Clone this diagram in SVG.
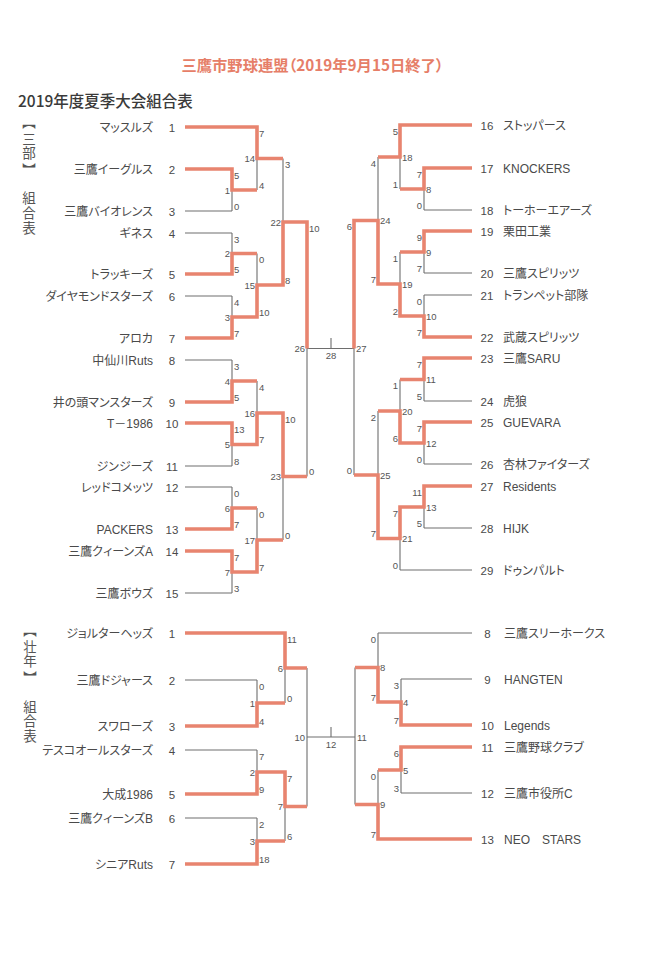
<svg xmlns="http://www.w3.org/2000/svg" width="647" height="955" viewBox="0 0 647 955">
<style>
.bg{fill:#ffffff}
.ln{fill:none;stroke:#6e6e6e;stroke-width:1.1}
.w{fill:none;stroke:#e8846f;stroke-width:3.6;stroke-linejoin:miter;stroke-linecap:butt}
text{font-family:"Liberation Sans","Noto Sans CJK JP",sans-serif;fill:#4a4a4a}
.nm{font-size:12px;font-feature-settings:"palt"}
.no{font-size:11.5px}
.l .nm{text-anchor:end}
.l .no{text-anchor:middle}
.r .no{text-anchor:middle}
.sc{font-size:9.5px;fill:#555555}
.le .sc.n{text-anchor:end}
.ri .sc.s{text-anchor:end}
.ttl{font-family:"Noto Sans CJK JP",sans-serif;font-size:15.3px;font-weight:bold;fill:#e67e68;text-anchor:middle;font-feature-settings:"palt"}
.sub{font-family:"Noto Sans CJK JP",sans-serif;font-size:15.5px;font-weight:500;fill:#3a3a3a}
.vt{font-family:"Noto Sans CJK JP",sans-serif;font-size:13.5px;fill:#555555;writing-mode:vertical-rl;text-orientation:upright}
.mid{text-anchor:middle}
</style>
<rect class="bg" x="0" y="0" width="647" height="955"/>

<g id="titles">
<text class="ttl" x="312.5" y="71">三鷹市野球連盟（2019年9月15日終了）</text>
<text class="sub" x="18" y="107">2019年度夏季大会組合表</text>
<text class="vt" x="29" y="115">【<tspan dy="3.5">三部</tspan><tspan dy="4">】</tspan></text>
<text class="vt" x="29" y="191" letter-spacing="1.5">組合表</text>
<text class="vt" x="30" y="623">【<tspan dy="3.5">壮年</tspan><tspan dy="4">】</tspan></text>
<text class="vt" x="30" y="700" letter-spacing="1">組合表</text>
</g>

<g id="connectors">
<path class="ln" d="M185,127H257 M185,169H232 M185,211H232 M185,233H232 M185,274H232 M185,296H232 M185,338H232 M185,360H232 M185,402H232 M185,423H232 M185,466H232 M185,487H232 M185,529H232 M185,551H232 M185,593H232
M232,169V211 M232,233V274 M232,296V338 M232,360V402 M232,423V466 M232,487V529 M232,551V593
M232,190H257 M232,253.5H257 M232,317H257 M232,381H257 M232,444.5H257 M232,508H257 M232,572H257
M257,127V190 M257,253.5V317 M257,381V444.5 M257,508V572
M257,158.5H283 M257,285H283 M257,413H283 M257,540H283
M283,158.5V285 M283,413V540
M283,222H307 M283,476.5H307
M307,222V476.5
M307,348.5H354 M331,338V348.5"/>
<path class="ln" d="M472,125H400 M472,168H424 M472,210H424 M472,231H424 M472,273H424 M472,295H424 M472,337H424 M472,358H424 M472,401H424 M472,422H424 M472,464H424 M472,486H424 M472,528H424 M472,570H400
M424,168V210 M424,231V273 M424,295V337 M424,358V401 M424,422V464 M424,486V528
M424,189H400 M424,252H400 M424,316H400 M424,379.5H400 M424,443H400 M424,507H400
M400,125V189 M400,252V316 M400,379.5V443 M400,507V570
M400,157H378 M400,284H378 M400,411H378 M400,538.5H378
M378,157V284 M378,411V538.5
M378,220.5H354 M378,475H354
M354,220.5V475"/>
<path class="ln" d="M185,633H285 M185,680H257 M185,726H257 M185,750H257 M185,794H257 M185,818H257 M185,864H257
M257,680V726 M257,750V794 M257,818V864
M257,703H285 M257,772H285 M257,841H285
M285,633V703 M285,772V841
M285,668H307 M285,806.5H307
M307,668V806.5
M307,737H355 M331,727V737"/>
<path class="ln" d="M472,633H378 M472,679H401 M472,725H401 M472,747H401 M472,793H401 M472,839H378
M401,679V725 M401,747V793
M401,702H378 M401,770H378
M378,633V702 M378,770V839
M378,667.5H355 M378,804.5H355
M355,667.5V804.5"/>
<path class="w" d="M185,127H257V158.5H283"/>
<path class="w" d="M185,169H232V190H257"/>
<path class="w" d="M185,274H232V253.5H257"/>
<path class="w" d="M185,338H232V317H257V285H283V222H307V348.5"/>
<path class="w" d="M185,402H232V381H257"/>
<path class="w" d="M185,423H232V444.5H257V413H283V476.5H307"/>
<path class="w" d="M185,529H232V508H257"/>
<path class="w" d="M185,551H232V572H257V540H283"/>
<path class="w" d="M472,125H400V157H378"/>
<path class="w" d="M472,168H424V189H400"/>
<path class="w" d="M472,231H424V252H400"/>
<path class="w" d="M472,337H424V316H400V284H378V220.5H354V348.5"/>
<path class="w" d="M472,358H424V379.5H400"/>
<path class="w" d="M472,422H424V443H400V411H378"/>
<path class="w" d="M472,486H424V507H400V538.5H378V475H354"/>
<path class="w" d="M185,633H285V668H307"/>
<path class="w" d="M185,726H257V703H285"/>
<path class="w" d="M185,794H257V772H285V806.5H307"/>
<path class="w" d="M185,864H257V841H285"/>
<path class="w" d="M472,725H401V702H378V667.5H355"/>
<path class="w" d="M472,747H401V770H378"/>
<path class="w" d="M472,839H378V804.5H355"/>
</g>

<g id="teams-sanbu-left" class="l">
<g id="s1"><text class="nm" x="153" y="131.5">マッスルズ</text><text class="no" x="172" y="131.5">1</text></g>
<g id="s2"><text class="nm" x="153" y="173.5">三鷹イーグルス</text><text class="no" x="172" y="173.5">2</text></g>
<g id="s3"><text class="nm" x="153" y="215.5">三鷹バイオレンス</text><text class="no" x="172" y="215.5">3</text></g>
<g id="s4"><text class="nm" x="153" y="237.5">ギネス</text><text class="no" x="172" y="237.5">4</text></g>
<g id="s5"><text class="nm" x="153" y="278.5">トラッキーズ</text><text class="no" x="172" y="278.5">5</text></g>
<g id="s6"><text class="nm" x="153" y="300.5">ダイヤモンドスターズ</text><text class="no" x="172" y="300.5">6</text></g>
<g id="s7"><text class="nm" x="153" y="342.5">アロカ</text><text class="no" x="172" y="342.5">7</text></g>
<g id="s8"><text class="nm" x="153" y="364.5">中仙川Ruts</text><text class="no" x="172" y="364.5">8</text></g>
<g id="s9"><text class="nm" x="153" y="406.5">井の頭マンスターズ</text><text class="no" x="172" y="406.5">9</text></g>
<g id="s10"><text class="nm" x="153" y="427.5">T－1986</text><text class="no" x="172" y="427.5">10</text></g>
<g id="s11"><text class="nm" x="153" y="470.5">ジンジーズ</text><text class="no" x="172" y="470.5">11</text></g>
<g id="s12"><text class="nm" x="153" y="491.5">レッドコメッツ</text><text class="no" x="172" y="491.5">12</text></g>
<g id="s13"><text class="nm" x="153" y="533.5">PACKERS</text><text class="no" x="172" y="533.5">13</text></g>
<g id="s14"><text class="nm" x="153" y="555.5">三鷹クィーンズA</text><text class="no" x="172" y="555.5">14</text></g>
<g id="s15"><text class="nm" x="153" y="597.5">三鷹ボウズ</text><text class="no" x="172" y="597.5">15</text></g>
</g>

<g id="teams-sanbu-right" class="r">
<g id="s16"><text class="no" x="487" y="129.5">16</text><text class="nm" x="503" y="129.5">ストッパース</text></g>
<g id="s17"><text class="no" x="487" y="172.5">17</text><text class="nm" x="503" y="172.5">KNOCKERS</text></g>
<g id="s18"><text class="no" x="487" y="214.5">18</text><text class="nm" x="503" y="214.5">トーホーエアーズ</text></g>
<g id="s19"><text class="no" x="487" y="235.5">19</text><text class="nm" x="503" y="235.5">栗田工業</text></g>
<g id="s20"><text class="no" x="487" y="277.5">20</text><text class="nm" x="503" y="277.5">三鷹スピリッツ</text></g>
<g id="s21"><text class="no" x="487" y="299.5">21</text><text class="nm" x="503" y="299.5">トランペット部隊</text></g>
<g id="s22"><text class="no" x="487" y="341.5">22</text><text class="nm" x="503" y="341.5">武蔵スピリッツ</text></g>
<g id="s23"><text class="no" x="487" y="362.5">23</text><text class="nm" x="503" y="362.5">三鷹SARU</text></g>
<g id="s24"><text class="no" x="487" y="405.5">24</text><text class="nm" x="503" y="405.5">虎狼</text></g>
<g id="s25"><text class="no" x="487" y="426.5">25</text><text class="nm" x="503" y="426.5">GUEVARA</text></g>
<g id="s26"><text class="no" x="487" y="468.5">26</text><text class="nm" x="503" y="468.5">杏林ファイターズ</text></g>
<g id="s27"><text class="no" x="487" y="490.5">27</text><text class="nm" x="503" y="490.5">Residents</text></g>
<g id="s28"><text class="no" x="487" y="532.5">28</text><text class="nm" x="503" y="532.5">HIJK</text></g>
<g id="s29"><text class="no" x="487" y="574.5">29</text><text class="nm" x="503" y="574.5">ドゥンパルト</text></g>
</g>

<g id="teams-sonen-left" class="l">
<g id="o1"><text class="nm" x="153" y="637.5">ジョルターヘッズ</text><text class="no" x="172" y="637.5">1</text></g>
<g id="o2"><text class="nm" x="153" y="684.5">三鷹ドジャース</text><text class="no" x="172" y="684.5">2</text></g>
<g id="o3"><text class="nm" x="153" y="730.5">スワローズ</text><text class="no" x="172" y="730.5">3</text></g>
<g id="o4"><text class="nm" x="153" y="754.5">テスコオールスターズ</text><text class="no" x="172" y="754.5">4</text></g>
<g id="o5"><text class="nm" x="153" y="798.5">大成1986</text><text class="no" x="172" y="798.5">5</text></g>
<g id="o6"><text class="nm" x="153" y="822.5">三鷹クィーンズB</text><text class="no" x="172" y="822.5">6</text></g>
<g id="o7"><text class="nm" x="153" y="868.5">シニアRuts</text><text class="no" x="172" y="868.5">7</text></g>
</g>

<g id="teams-sonen-right" class="r">
<g id="o8"><text class="no" x="487.5" y="637.5">8</text><text class="nm" x="504" y="637.5">三鷹スリーホークス</text></g>
<g id="o9"><text class="no" x="487.5" y="683.5">9</text><text class="nm" x="504" y="683.5">HANGTEN</text></g>
<g id="o10"><text class="no" x="487.5" y="729.5">10</text><text class="nm" x="504" y="729.5">Legends</text></g>
<g id="o11"><text class="no" x="487.5" y="751.5">11</text><text class="nm" x="504" y="751.5">三鷹野球クラブ</text></g>
<g id="o12"><text class="no" x="487.5" y="797.5">12</text><text class="nm" x="504" y="797.5">三鷹市役所C</text></g>
<g id="o13"><text class="no" x="487.5" y="843.5">13</text><text class="nm" x="504" y="843.5">NEO　STARS</text></g>
</g>

<g id="matches-sanbu-left" class="le">
<g id="sm1"><text class="sc n" x="230" y="193.5">1</text><text class="sc" x="234" y="178.5">5</text><text class="sc" x="234" y="209.5">0</text></g>
<g id="sm2"><text class="sc n" x="230" y="257">2</text><text class="sc" x="234" y="242.5">3</text><text class="sc" x="234" y="272.5">5</text></g>
<g id="sm3"><text class="sc n" x="230" y="320.5">3</text><text class="sc" x="234" y="305.5">4</text><text class="sc" x="234" y="336.5">7</text></g>
<g id="sm4"><text class="sc n" x="230" y="384.5">4</text><text class="sc" x="234" y="369.5">3</text><text class="sc" x="234" y="400.5">5</text></g>
<g id="sm5"><text class="sc n" x="230" y="448">5</text><text class="sc" x="234" y="432.5">13</text><text class="sc" x="234" y="464.5">8</text></g>
<g id="sm6"><text class="sc n" x="230" y="511.5">6</text><text class="sc" x="234" y="496.5">0</text><text class="sc" x="234" y="527.5">7</text></g>
<g id="sm7"><text class="sc n" x="230" y="575.5">7</text><text class="sc" x="234" y="560.5">7</text><text class="sc" x="234" y="591.5">3</text></g>
<g id="sm14"><text class="sc n" x="255" y="162">14</text><text class="sc" x="259" y="136.5">7</text><text class="sc" x="259" y="188.5">4</text></g>
<g id="sm15"><text class="sc n" x="255" y="288.5">15</text><text class="sc" x="259" y="263">0</text><text class="sc" x="259" y="315.5">10</text></g>
<g id="sm16"><text class="sc n" x="255" y="416.5">16</text><text class="sc" x="259" y="390.5">4</text><text class="sc" x="259" y="443">7</text></g>
<g id="sm17"><text class="sc n" x="255" y="543.5">17</text><text class="sc" x="259" y="517.5">0</text><text class="sc" x="259" y="570.5">7</text></g>
<g id="sm22"><text class="sc n" x="281" y="225.5">22</text><text class="sc" x="285" y="168">3</text><text class="sc" x="285" y="283.5">8</text></g>
<g id="sm23"><text class="sc n" x="281" y="480">23</text><text class="sc" x="285" y="422.5">10</text><text class="sc" x="285" y="538.5">0</text></g>
<g id="sm26"><text class="sc n" x="305" y="352">26</text><text class="sc" x="309" y="231.5">10</text><text class="sc" x="309" y="475">0</text></g>
</g>

<g id="matches-sanbu-right" class="ri">
<g id="sm8"><text class="sc" x="426" y="192.5">8</text><text class="sc s" x="422" y="177.5">7</text><text class="sc s" x="422" y="208.5">0</text></g>
<g id="sm9"><text class="sc" x="426" y="255.5">9</text><text class="sc s" x="422" y="240.5">9</text><text class="sc s" x="422" y="271.5">7</text></g>
<g id="sm10"><text class="sc" x="426" y="319.5">10</text><text class="sc s" x="422" y="304.5">0</text><text class="sc s" x="422" y="335.5">7</text></g>
<g id="sm11"><text class="sc" x="426" y="383">11</text><text class="sc s" x="422" y="367.5">7</text><text class="sc s" x="422" y="399.5">5</text></g>
<g id="sm12"><text class="sc" x="426" y="446.5">12</text><text class="sc s" x="422" y="431.5">7</text><text class="sc s" x="422" y="462.5">0</text></g>
<g id="sm13"><text class="sc" x="426" y="510.5">13</text><text class="sc s" x="422" y="495.5">11</text><text class="sc s" x="422" y="526.5">5</text></g>
<g id="sm18"><text class="sc" x="402" y="160.5">18</text><text class="sc s" x="398" y="134.5">5</text><text class="sc s" x="398" y="187.5">1</text></g>
<g id="sm19"><text class="sc" x="402" y="287.5">19</text><text class="sc s" x="398" y="261.5">1</text><text class="sc s" x="398" y="314.5">2</text></g>
<g id="sm20"><text class="sc" x="402" y="414.5">20</text><text class="sc s" x="398" y="389">1</text><text class="sc s" x="398" y="441.5">6</text></g>
<g id="sm21"><text class="sc" x="402" y="542">21</text><text class="sc s" x="398" y="516.5">7</text><text class="sc s" x="398" y="568.5">0</text></g>
<g id="sm24"><text class="sc" x="380" y="224">24</text><text class="sc s" x="376" y="166.5">4</text><text class="sc s" x="376" y="282.5">7</text></g>
<g id="sm25"><text class="sc" x="380" y="478.5">25</text><text class="sc s" x="376" y="420.5">2</text><text class="sc s" x="376" y="537">7</text></g>
<g id="sm27"><text class="sc" x="356" y="352">27</text><text class="sc s" x="352" y="230">6</text><text class="sc s" x="352" y="473.5">0</text></g>
</g>
<g id="sm28"><text class="sc mid" x="331" y="359">28</text></g>

<g id="matches-sonen-left" class="le">
<g id="om1"><text class="sc n" x="255" y="706.5">1</text><text class="sc" x="259" y="689.5">0</text><text class="sc" x="259" y="724.5">4</text></g>
<g id="om2"><text class="sc n" x="255" y="775.5">2</text><text class="sc" x="259" y="759.5">7</text><text class="sc" x="259" y="792.5">9</text></g>
<g id="om3"><text class="sc n" x="255" y="844.5">3</text><text class="sc" x="259" y="827.5">2</text><text class="sc" x="259" y="862.5">18</text></g>
<g id="om6"><text class="sc n" x="283" y="671.5">6</text><text class="sc" x="287" y="642.5">11</text><text class="sc" x="287" y="701.5">0</text></g>
<g id="om7"><text class="sc n" x="283" y="810">7</text><text class="sc" x="287" y="781.5">7</text><text class="sc" x="287" y="839.5">6</text></g>
<g id="om10"><text class="sc n" x="305" y="740.5">10</text></g>
</g>

<g id="matches-sonen-right" class="ri">
<g id="om4"><text class="sc" x="403" y="705.5">4</text><text class="sc s" x="399" y="688.5">3</text><text class="sc s" x="399" y="723.5">7</text></g>
<g id="om5"><text class="sc" x="403" y="773.5">5</text><text class="sc s" x="399" y="756.5">6</text><text class="sc s" x="399" y="791.5">3</text></g>
<g id="om8"><text class="sc" x="380" y="671">8</text><text class="sc s" x="376" y="642.5">0</text><text class="sc s" x="376" y="700.5">7</text></g>
<g id="om9"><text class="sc" x="380" y="808">9</text><text class="sc s" x="376" y="779.5">0</text><text class="sc s" x="376" y="837.5">7</text></g>
<g id="om11"><text class="sc" x="357" y="740.5">11</text></g>
</g>
<g id="om12"><text class="sc mid" x="331" y="748">12</text></g>
</svg>
